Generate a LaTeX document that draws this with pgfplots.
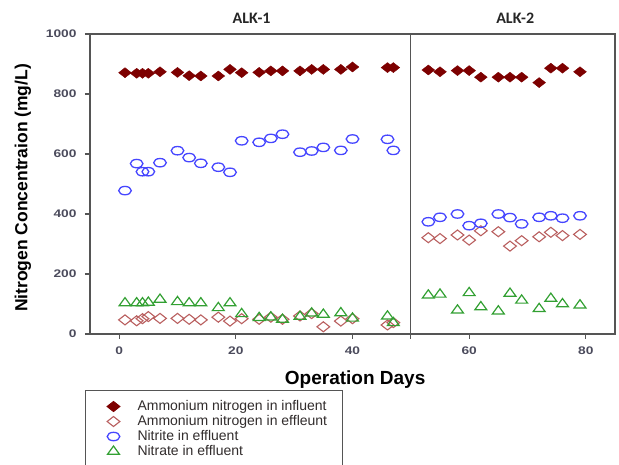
\documentclass[border=0pt]{standalone}
\usepackage{fontspec}
\setmainfont{Liberation Sans}
\newfontfamily\tickfont{Liberation Sans}[FakeStretch=1.25]
\newfontfamily\titlefont{Carlito}
\usepackage{pgfplots}
\pgfplotsset{compat=1.18}
\definecolor{axgray}{RGB}{85,85,85}
\definecolor{tickgray}{RGB}{75,75,92}
\definecolor{legtext}{RGB}{50,45,45}
\definecolor{inf}{RGB}{125,0,0}
\definecolor{eff}{RGB}{185,95,95}
\definecolor{nitri}{RGB}{70,70,255}
\definecolor{nitra}{RGB}{50,160,50}
\pgfplotsset{
  mymarks/.style={only marks,
    legend image code/.code={\path[draw=none,fill=none] (0pt,-6pt) rectangle (37pt,6pt); \draw[##1] plot coordinates {(13pt,0pt)};}},
}
\begin{document}
\begin{tikzpicture}[x=1pt,y=1pt]
\path[use as bounding box] (0,0) rectangle (619,465);
\begin{axis}[
  at={(90pt,131pt)}, anchor=south west,
  scale only axis, width=525pt, height=300pt,
  xmin=-5, xmax=85, ymin=0, ymax=1000,
  xtick={0,20,40,60,80}, ytick={0,200,...,1000},
  extra x ticks={50}, extra x tick labels={},
  tick align=outside, xtick pos=bottom, ytick pos=left,
  major tick length=5pt, minor tick num=0,
  axis line style={draw=axgray, line width=1.2pt},
  every tick/.style={draw=axgray, line width=1.2pt},
  ticklabel style={font=\tickfont\bfseries\fontsize{11}{13}\selectfont, text=tickgray},
  yticklabel style={xshift=-5pt},
  xticklabel style={yshift=-4pt},
  /pgf/number format/assume math mode=true,
  /pgf/number format/1000 sep={},
  xlabel={Operation Days}, ylabel={Nitrogen Concentraion (mg/L)},
  xlabel style={font=\bfseries\fontsize{19}{22}\selectfont, at={(axis description cs:0.505,-0.152)}, anchor=center},
  ylabel style={font=\bfseries\fontsize{17.5}{20}\selectfont, at={(axis description cs:-0.1276,0.487)}, anchor=center},
  clip=false,
  legend cell align=left,
  legend style={at={(axis description cs:-0.0095,-0.1867)}, anchor=north west,
    draw=axgray, line width=1pt, inner xsep=15pt, inner ysep=9pt,
    font=\fontsize{14}{16}\selectfont, text=legtext, row sep=1pt,
    nodes={inner sep=0pt, text height=11pt, text depth=3pt}},
]
\addplot[mymarks, mark=diamond*, mark size=5pt, color=inf, mark options={xscale=1.7, fill=inf, draw=inf}] coordinates {
(1,871)(3,869)(4,869)(5,869)(7,874)(10,872)(12,861)(14,860)(17,860)(19,882)(21,871)(24,872)(26,877)(28,877)(31,877)(33,882)(35,882)(38,882)(40,890)(46,888)(47,888)
(53,880)(55,874)(58,878)(60,878)(62,856)(65,856)(67,856)(69,856)(72,838)(74,886)(76,886)(79,874)};
\addlegendentry{Ammonium nitrogen in influent}
\addplot[mymarks, mark=diamond, mark size=5pt, color=eff, mark options={xscale=1.7, line width=1.1pt}] coordinates {
(1,47)(3,44)(4,51)(5,58)(7,52)(10,52)(12,49)(14,47)(17,56)(19,43)(21,51)(24,49)(26,56)(28,49)(31,60)(33,68)(35,24)(38,43)(40,51)(46,30)(47,38)
(53,321)(55,318)(58,330)(60,313)(62,344)(65,341)(67,293)(69,311)(72,324)(74,339)(76,328)(79,332)};
\addlegendentry{Ammonium nitrogen in effleunt}
\addplot[mymarks, mark=o, mark size=4.2pt, color=nitri, mark options={xscale=1.5, line width=1.3pt}] coordinates {
(1,478)(3,568)(4,541)(5,541)(7,571)(10,611)(12,588)(14,569)(17,556)(19,539)(21,644)(24,639)(26,652)(28,666)(31,606)(33,610)(35,622)(38,612)(40,650)(46,649)(47,612)
(53,374)(55,389)(58,400)(60,361)(62,369)(65,400)(67,388)(69,367)(72,389)(74,394)(76,386)(79,394)};
\addlegendentry{Nitrite in effluent}
\addplot[mymarks, mark=triangle, mark size=5.5pt, color=nitra, mark options={xscale=1.25, line width=1.2pt}] coordinates {
(1,103)(3,103)(4,103)(5,105)(7,115)(10,107)(12,103)(14,103)(17,87)(19,103)(21,67)(24,54)(26,56)(28,48)(31,58)(33,69)(35,65)(38,70)(40,52)(46,59)(47,37)
(53,129)(55,132)(58,79)(60,137)(62,90)(65,76)(67,135)(69,112)(72,84)(74,118)(76,100)(79,96)};
\addlegendentry{Nitrate in effluent}
\addplot[forget plot, draw=axgray, line width=1.2pt, mark=none] coordinates {(50,0)(50,1000)};
\node[font=\titlefont\bfseries\fontsize{16}{18}\selectfont, text=black!85] at (axis cs:22.7,1052) {ALK-1};
\node[font=\titlefont\bfseries\fontsize{16}{18}\selectfont, text=black!85] at (axis cs:67.9,1052) {ALK-2};
\end{axis}
\end{tikzpicture}
\end{document}
